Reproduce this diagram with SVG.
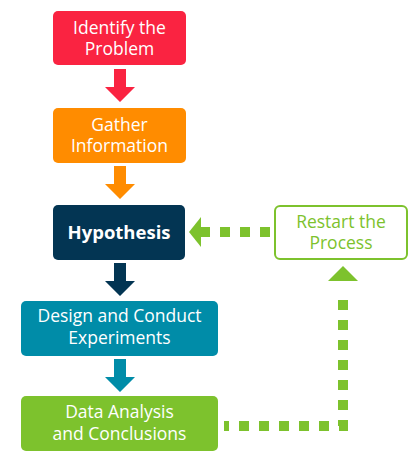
<svg xmlns="http://www.w3.org/2000/svg" width="420" height="460" viewBox="0 0 420 460">
<style>
text{font-family:"Open Sans","Liberation Sans",sans-serif;font-size:17.5px;text-anchor:middle;fill:#fff}
.b{font-weight:bold;font-size:18.5px}
.g{fill:#7dc22d}
.dot{fill:none;stroke:#7dc22d;stroke-width:10;stroke-dasharray:10 10}
</style>
<rect width="420" height="460" fill="#fff"/>
<g id="n1"><rect x="53" y="11" width="133" height="54" rx="5" fill="#fa2341"/><text x="119.5" y="34">Identify the</text><text x="119.5" y="55">Problem</text></g>
<g id="n2"><rect x="53" y="108" width="133" height="55" rx="5" fill="#ff8c00"/><text x="119.5" y="131">Gather</text><text x="119.5" y="152">Information</text></g>
<g id="n3"><rect x="53" y="205" width="132" height="55" rx="5" fill="#033553"/><text class="b" x="119" y="239">Hypothesis</text></g>
<g id="n4"><rect x="275" y="206" width="132" height="53" rx="5" fill="#fff" stroke="#7dc22d" stroke-width="2"/><text class="g" x="341" y="228">Restart the</text><text class="g" x="341" y="249">Process</text></g>
<g id="n5"><rect x="21" y="301" width="197" height="55" rx="5" fill="#008ca8"/><text x="119.5" y="322">Design and Conduct</text><text x="119.5" y="344">Experiments</text></g>
<g id="n6"><rect x="21" y="396" width="197" height="55" rx="5" fill="#7dc22d"/><text x="119.5" y="418">Data Analysis</text><text x="119.5" y="440">and Conclusions</text></g>
<g id="connectors">
<polygon points="114,69 126,69 126,87 135,87 120,102 105,87 114,87" fill="#fa2341"/>
<polygon points="114,166 126,166 126,184 135,184 120,199 105,184 114,184" fill="#ff8c00"/>
<polygon points="114,263 126,263 126,281 135,281 120,296 105,281 114,281" fill="#033553"/>
<polygon points="114,359 126,359 126,377 135,377 120,392 105,377 114,377" fill="#008ca8"/>
<line class="dot" x1="270" y1="232" x2="200" y2="232"/>
<polygon points="189,232 201,217 201,247" fill="#7dc22d"/>
<path class="dot" d="M224 426 H343 V296" stroke-dashoffset="5" stroke-linejoin="miter"/>
<polygon points="343,266 358,281 328,281" fill="#7dc22d"/>
</g>
</svg>
